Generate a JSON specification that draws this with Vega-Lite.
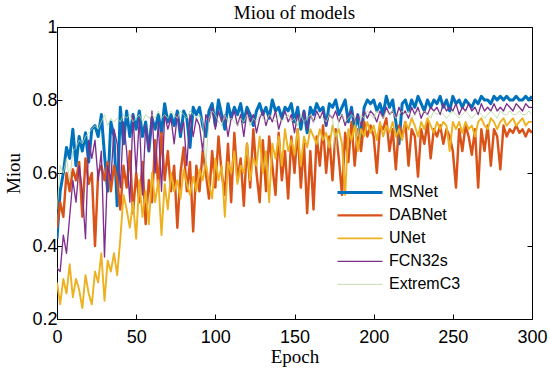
{
"$schema": "https://vega.github.io/schema/vega-lite/v6.json",
"width": 475, "height": 292,
"autosize": "none",
"padding": {"left": 57, "top": 27, "right": 18, "bottom": 54},
"background": "white",
"title": {"text": "Miou of models", "font": "Liberation Serif", "fontSize": 19, "fontWeight": "normal", "color": "black", "offset": -5},
"config": {
  "view": {"stroke": "black", "strokeWidth": 1},
  "axis": {"grid": false, "domain": false, "tickColor": "black", "tickSize": -5, "labelFlush": false, "labelFont": "Liberation Sans", "labelFontSize": 18, "labelColor": "black", "titleFont": "Liberation Serif", "titleFontSize": 19, "titleFontWeight": "normal", "titleColor": "black"},
  "legend": {"labelFont": "Liberation Sans", "labelFontSize": 16, "labelColor": "black"}
},
"data": {"values": [
{"epoch":0,"MSNet":0.42,"DABNet":0.45,"UNet":0.30,"FCN32s":0.34,"ExtremC3":0.50},
{"epoch":2,"MSNet":0.55,"DABNet":0.52,"UNet":0.24,"FCN32s":0.33,"ExtremC3":0.62},
{"epoch":4,"MSNet":0.60,"DABNet":0.48,"UNet":0.31,"FCN32s":0.43,"ExtremC3":0.60},
{"epoch":6,"MSNet":0.67,"DABNet":0.60,"UNet":0.27,"FCN32s":0.38,"ExtremC3":0.64},
{"epoch":8,"MSNet":0.64,"DABNet":0.55,"UNet":0.35,"FCN32s":0.48,"ExtremC3":0.58},
{"epoch":10,"MSNet":0.72,"DABNet":0.61,"UNet":0.26,"FCN32s":0.58,"ExtremC3":0.66},
{"epoch":12,"MSNet":0.62,"DABNet":0.58,"UNet":0.31,"FCN32s":0.52,"ExtremC3":0.67},
{"epoch":14,"MSNet":0.70,"DABNet":0.63,"UNet":0.28,"FCN32s":0.62,"ExtremC3":0.69},
{"epoch":16,"MSNet":0.66,"DABNet":0.48,"UNet":0.23,"FCN32s":0.55,"ExtremC3":0.68},
{"epoch":18,"MSNet":0.71,"DABNet":0.64,"UNet":0.32,"FCN32s":0.42,"ExtremC3":0.70},
{"epoch":20,"MSNet":0.63,"DABNet":0.57,"UNet":0.27,"FCN32s":0.69,"ExtremC3":0.71},
{"epoch":22,"MSNet":0.72,"DABNet":0.60,"UNet":0.24,"FCN32s":0.64,"ExtremC3":0.72},
{"epoch":24,"MSNet":0.73,"DABNet":0.40,"UNet":0.33,"FCN32s":0.69,"ExtremC3":0.73},
{"epoch":26,"MSNet":0.70,"DABNet":0.60,"UNet":0.30,"FCN32s":0.58,"ExtremC3":0.72},
{"epoch":28,"MSNet":0.76,"DABNet":0.62,"UNet":0.38,"FCN32s":0.66,"ExtremC3":0.74},
{"epoch":30,"MSNet":0.65,"DABNet":0.58,"UNet":0.25,"FCN32s":0.37,"ExtremC3":0.76},
{"epoch":32,"MSNet":0.55,"DABNet":0.63,"UNet":0.36,"FCN32s":0.62,"ExtremC3":0.73},
{"epoch":34,"MSNet":0.74,"DABNet":0.55,"UNet":0.33,"FCN32s":0.58,"ExtremC3":0.75},
{"epoch":36,"MSNet":0.70,"DABNet":0.62,"UNet":0.38,"FCN32s":0.72,"ExtremC3":0.74},
{"epoch":38,"MSNet":0.51,"DABNet":0.58,"UNet":0.32,"FCN32s":0.68,"ExtremC3":0.75},
{"epoch":40,"MSNet":0.78,"DABNet":0.50,"UNet":0.42,"FCN32s":0.56,"ExtremC3":0.74},
{"epoch":42,"MSNet":0.68,"DABNet":0.62,"UNet":0.54,"FCN32s":0.74,"ExtremC3":0.76},
{"epoch":44,"MSNet":0.77,"DABNet":0.56,"UNet":0.50,"FCN32s":0.66,"ExtremC3":0.75},
{"epoch":46,"MSNet":0.70,"DABNet":0.66,"UNet":0.45,"FCN32s":0.52,"ExtremC3":0.76},
{"epoch":48,"MSNet":0.76,"DABNet":0.49,"UNet":0.52,"FCN32s":0.76,"ExtremC3":0.74},
{"epoch":50,"MSNet":0.72,"DABNet":0.60,"UNet":0.42,"FCN32s":0.60,"ExtremC3":0.75},
{"epoch":52,"MSNet":0.77,"DABNet":0.52,"UNet":0.58,"FCN32s":0.75,"ExtremC3":0.76},
{"epoch":54,"MSNet":0.70,"DABNet":0.63,"UNet":0.48,"FCN32s":0.54,"ExtremC3":0.74},
{"epoch":56,"MSNet":0.74,"DABNet":0.46,"UNet":0.55,"FCN32s":0.73,"ExtremC3":0.76},
{"epoch":58,"MSNet":0.66,"DABNet":0.58,"UNet":0.46,"FCN32s":0.66,"ExtremC3":0.75},
{"epoch":60,"MSNet":0.75,"DABNet":0.52,"UNet":0.60,"FCN32s":0.77,"ExtremC3":0.76},
{"epoch":62,"MSNet":0.72,"DABNet":0.69,"UNet":0.52,"FCN32s":0.60,"ExtremC3":0.75},
{"epoch":64,"MSNet":0.76,"DABNet":0.56,"UNet":0.58,"FCN32s":0.74,"ExtremC3":0.77},
{"epoch":66,"MSNet":0.71,"DABNet":0.71,"UNet":0.43,"FCN32s":0.55,"ExtremC3":0.75},
{"epoch":68,"MSNet":0.79,"DABNet":0.58,"UNet":0.57,"FCN32s":0.76,"ExtremC3":0.76},
{"epoch":70,"MSNet":0.74,"DABNet":0.66,"UNet":0.50,"FCN32s":0.72,"ExtremC3":0.75},
{"epoch":72,"MSNet":0.76,"DABNet":0.55,"UNet":0.60,"FCN32s":0.75,"ExtremC3":0.77},
{"epoch":74,"MSNet":0.73,"DABNet":0.62,"UNet":0.55,"FCN32s":0.68,"ExtremC3":0.76},
{"epoch":76,"MSNet":0.77,"DABNet":0.45,"UNet":0.58,"FCN32s":0.76,"ExtremC3":0.75},
{"epoch":78,"MSNet":0.70,"DABNet":0.60,"UNet":0.53,"FCN32s":0.71,"ExtremC3":0.77},
{"epoch":80,"MSNet":0.77,"DABNet":0.67,"UNet":0.61,"FCN32s":0.74,"ExtremC3":0.76},
{"epoch":82,"MSNet":0.75,"DABNet":0.55,"UNet":0.57,"FCN32s":0.62,"ExtremC3":0.75},
{"epoch":84,"MSNet":0.67,"DABNet":0.63,"UNet":0.54,"FCN32s":0.76,"ExtremC3":0.77},
{"epoch":86,"MSNet":0.78,"DABNet":0.44,"UNet":0.59,"FCN32s":0.70,"ExtremC3":0.76},
{"epoch":88,"MSNet":0.76,"DABNet":0.62,"UNet":0.55,"FCN32s":0.75,"ExtremC3":0.75},
{"epoch":90,"MSNet":0.78,"DABNet":0.55,"UNet":0.61,"FCN32s":0.73,"ExtremC3":0.76},
{"epoch":92,"MSNet":0.73,"DABNet":0.66,"UNet":0.58,"FCN32s":0.66,"ExtremC3":0.74},
{"epoch":94,"MSNet":0.70,"DABNet":0.60,"UNet":0.63,"FCN32s":0.76,"ExtremC3":0.62},
{"epoch":96,"MSNet":0.77,"DABNet":0.53,"UNet":0.57,"FCN32s":0.74,"ExtremC3":0.75},
{"epoch":98,"MSNet":0.79,"DABNet":0.66,"UNet":0.53,"FCN32s":0.78,"ExtremC3":0.77},
{"epoch":100,"MSNet":0.73,"DABNet":0.56,"UNet":0.64,"FCN32s":0.72,"ExtremC3":0.76},
{"epoch":102,"MSNet":0.80,"DABNet":0.70,"UNet":0.58,"FCN32s":0.77,"ExtremC3":0.74},
{"epoch":104,"MSNet":0.76,"DABNet":0.60,"UNet":0.62,"FCN32s":0.74,"ExtremC3":0.73},
{"epoch":106,"MSNet":0.72,"DABNet":0.54,"UNet":0.48,"FCN32s":0.76,"ExtremC3":0.76},
{"epoch":108,"MSNet":0.79,"DABNet":0.68,"UNet":0.63,"FCN32s":0.70,"ExtremC3":0.74},
{"epoch":110,"MSNet":0.75,"DABNet":0.52,"UNet":0.60,"FCN32s":0.75,"ExtremC3":0.75},
{"epoch":112,"MSNet":0.78,"DABNet":0.71,"UNet":0.66,"FCN32s":0.77,"ExtremC3":0.74},
{"epoch":114,"MSNet":0.76,"DABNet":0.58,"UNet":0.57,"FCN32s":0.73,"ExtremC3":0.73},
{"epoch":116,"MSNet":0.79,"DABNet":0.64,"UNet":0.62,"FCN32s":0.76,"ExtremC3":0.75},
{"epoch":118,"MSNet":0.74,"DABNet":0.51,"UNet":0.60,"FCN32s":0.70,"ExtremC3":0.74},
{"epoch":120,"MSNet":0.78,"DABNet":0.68,"UNet":0.68,"FCN32s":0.77,"ExtremC3":0.76},
{"epoch":122,"MSNet":0.76,"DABNet":0.56,"UNet":0.58,"FCN32s":0.74,"ExtremC3":0.73},
{"epoch":124,"MSNet":0.73,"DABNet":0.72,"UNet":0.64,"FCN32s":0.76,"ExtremC3":0.75},
{"epoch":126,"MSNet":0.77,"DABNet":0.60,"UNet":0.62,"FCN32s":0.71,"ExtremC3":0.74},
{"epoch":128,"MSNet":0.79,"DABNet":0.52,"UNet":0.70,"FCN32s":0.75,"ExtremC3":0.76},
{"epoch":130,"MSNet":0.76,"DABNet":0.69,"UNet":0.60,"FCN32s":0.77,"ExtremC3":0.75},
{"epoch":132,"MSNet":0.78,"DABNet":0.55,"UNet":0.66,"FCN32s":0.73,"ExtremC3":0.74},
{"epoch":134,"MSNet":0.75,"DABNet":0.70,"UNet":0.52,"FCN32s":0.76,"ExtremC3":0.76},
{"epoch":136,"MSNet":0.80,"DABNet":0.62,"UNet":0.68,"FCN32s":0.74,"ExtremC3":0.75},
{"epoch":138,"MSNet":0.77,"DABNet":0.54,"UNet":0.64,"FCN32s":0.77,"ExtremC3":0.74},
{"epoch":140,"MSNet":0.78,"DABNet":0.71,"UNet":0.70,"FCN32s":0.72,"ExtremC3":0.76},
{"epoch":142,"MSNet":0.75,"DABNet":0.58,"UNet":0.62,"FCN32s":0.75,"ExtremC3":0.74},
{"epoch":144,"MSNet":0.78,"DABNet":0.66,"UNet":0.72,"FCN32s":0.77,"ExtremC3":0.75},
{"epoch":146,"MSNet":0.77,"DABNet":0.53,"UNet":0.66,"FCN32s":0.74,"ExtremC3":0.76},
{"epoch":148,"MSNet":0.79,"DABNet":0.70,"UNet":0.69,"FCN32s":0.76,"ExtremC3":0.74},
{"epoch":150,"MSNet":0.74,"DABNet":0.60,"UNet":0.65,"FCN32s":0.71,"ExtremC3":0.75},
{"epoch":152,"MSNet":0.78,"DABNet":0.72,"UNet":0.72,"FCN32s":0.76,"ExtremC3":0.73},
{"epoch":154,"MSNet":0.72,"DABNet":0.56,"UNet":0.62,"FCN32s":0.74,"ExtremC3":0.76},
{"epoch":156,"MSNet":0.77,"DABNet":0.68,"UNet":0.70,"FCN32s":0.77,"ExtremC3":0.74},
{"epoch":158,"MSNet":0.71,"DABNet":0.49,"UNet":0.67,"FCN32s":0.72,"ExtremC3":0.75},
{"epoch":160,"MSNet":0.78,"DABNet":0.66,"UNet":0.72,"FCN32s":0.76,"ExtremC3":0.76},
{"epoch":162,"MSNet":0.76,"DABNet":0.50,"UNet":0.70,"FCN32s":0.74,"ExtremC3":0.74},
{"epoch":164,"MSNet":0.79,"DABNet":0.70,"UNet":0.68,"FCN32s":0.77,"ExtremC3":0.75},
{"epoch":166,"MSNet":0.77,"DABNet":0.62,"UNet":0.72,"FCN32s":0.75,"ExtremC3":0.76},
{"epoch":168,"MSNet":0.78,"DABNet":0.73,"UNet":0.69,"FCN32s":0.77,"ExtremC3":0.75},
{"epoch":170,"MSNet":0.73,"DABNet":0.60,"UNet":0.71,"FCN32s":0.73,"ExtremC3":0.74},
{"epoch":172,"MSNet":0.79,"DABNet":0.70,"UNet":0.67,"FCN32s":0.76,"ExtremC3":0.76},
{"epoch":174,"MSNet":0.78,"DABNet":0.58,"UNet":0.73,"FCN32s":0.75,"ExtremC3":0.75},
{"epoch":176,"MSNet":0.80,"DABNet":0.72,"UNet":0.70,"FCN32s":0.77,"ExtremC3":0.66},
{"epoch":178,"MSNet":0.76,"DABNet":0.64,"UNet":0.72,"FCN32s":0.74,"ExtremC3":0.75},
{"epoch":180,"MSNet":0.78,"DABNet":0.54,"UNet":0.68,"FCN32s":0.76,"ExtremC3":0.76},
{"epoch":182,"MSNet":0.80,"DABNet":0.71,"UNet":0.54,"FCN32s":0.73,"ExtremC3":0.74},
{"epoch":184,"MSNet":0.74,"DABNet":0.63,"UNet":0.72,"FCN32s":0.76,"ExtremC3":0.75},
{"epoch":186,"MSNet":0.78,"DABNet":0.74,"UNet":0.69,"FCN32s":0.77,"ExtremC3":0.76},
{"epoch":188,"MSNet":0.72,"DABNet":0.62,"UNet":0.73,"FCN32s":0.74,"ExtremC3":0.75},
{"epoch":190,"MSNet":0.76,"DABNet":0.72,"UNet":0.66,"FCN32s":0.76,"ExtremC3":0.70},
{"epoch":192,"MSNet":0.69,"DABNet":0.66,"UNet":0.72,"FCN32s":0.73,"ExtremC3":0.76},
{"epoch":194,"MSNet":0.78,"DABNet":0.74,"UNet":0.70,"FCN32s":0.77,"ExtremC3":0.75},
{"epoch":196,"MSNet":0.80,"DABNet":0.70,"UNet":0.74,"FCN32s":0.75,"ExtremC3":0.77},
{"epoch":198,"MSNet":0.79,"DABNet":0.73,"UNet":0.71,"FCN32s":0.77,"ExtremC3":0.76},
{"epoch":200,"MSNet":0.80,"DABNet":0.70,"UNet":0.73,"FCN32s":0.76,"ExtremC3":0.75},
{"epoch":202,"MSNet":0.77,"DABNet":0.60,"UNet":0.69,"FCN32s":0.74,"ExtremC3":0.77},
{"epoch":204,"MSNet":0.79,"DABNet":0.73,"UNet":0.74,"FCN32s":0.77,"ExtremC3":0.76},
{"epoch":206,"MSNet":0.76,"DABNet":0.72,"UNet":0.70,"FCN32s":0.75,"ExtremC3":0.75},
{"epoch":208,"MSNet":0.81,"DABNet":0.75,"UNet":0.73,"FCN32s":0.78,"ExtremC3":0.77},
{"epoch":210,"MSNet":0.78,"DABNet":0.66,"UNet":0.71,"FCN32s":0.76,"ExtremC3":0.76},
{"epoch":212,"MSNet":0.80,"DABNet":0.72,"UNet":0.74,"FCN32s":0.77,"ExtremC3":0.77},
{"epoch":214,"MSNet":0.74,"DABNet":0.61,"UNet":0.70,"FCN32s":0.75,"ExtremC3":0.75},
{"epoch":216,"MSNet":0.68,"DABNet":0.73,"UNet":0.72,"FCN32s":0.78,"ExtremC3":0.76},
{"epoch":218,"MSNet":0.79,"DABNet":0.70,"UNet":0.69,"FCN32s":0.76,"ExtremC3":0.77},
{"epoch":220,"MSNet":0.80,"DABNet":0.74,"UNet":0.74,"FCN32s":0.77,"ExtremC3":0.76},
{"epoch":222,"MSNet":0.77,"DABNet":0.62,"UNet":0.72,"FCN32s":0.75,"ExtremC3":0.77},
{"epoch":224,"MSNet":0.80,"DABNet":0.72,"UNet":0.75,"FCN32s":0.78,"ExtremC3":0.75},
{"epoch":226,"MSNet":0.78,"DABNet":0.70,"UNet":0.73,"FCN32s":0.76,"ExtremC3":0.76},
{"epoch":228,"MSNet":0.81,"DABNet":0.59,"UNet":0.70,"FCN32s":0.78,"ExtremC3":0.77},
{"epoch":230,"MSNet":0.79,"DABNet":0.72,"UNet":0.74,"FCN32s":0.75,"ExtremC3":0.76},
{"epoch":232,"MSNet":0.77,"DABNet":0.68,"UNet":0.72,"FCN32s":0.77,"ExtremC3":0.77},
{"epoch":234,"MSNet":0.80,"DABNet":0.74,"UNet":0.75,"FCN32s":0.76,"ExtremC3":0.76},
{"epoch":236,"MSNet":0.78,"DABNet":0.64,"UNet":0.73,"FCN32s":0.78,"ExtremC3":0.75},
{"epoch":238,"MSNet":0.80,"DABNet":0.72,"UNet":0.71,"FCN32s":0.77,"ExtremC3":0.77},
{"epoch":240,"MSNet":0.79,"DABNet":0.70,"UNet":0.74,"FCN32s":0.78,"ExtremC3":0.76},
{"epoch":242,"MSNet":0.81,"DABNet":0.73,"UNet":0.72,"FCN32s":0.76,"ExtremC3":0.77},
{"epoch":244,"MSNet":0.78,"DABNet":0.68,"UNet":0.74,"FCN32s":0.79,"ExtremC3":0.76},
{"epoch":246,"MSNet":0.80,"DABNet":0.72,"UNet":0.73,"FCN32s":0.77,"ExtremC3":0.75},
{"epoch":248,"MSNet":0.77,"DABNet":0.70,"UNet":0.66,"FCN32s":0.78,"ExtremC3":0.76},
{"epoch":250,"MSNet":0.81,"DABNet":0.66,"UNet":0.74,"FCN32s":0.77,"ExtremC3":0.77},
{"epoch":252,"MSNet":0.79,"DABNet":0.56,"UNet":0.72,"FCN32s":0.79,"ExtremC3":0.76},
{"epoch":254,"MSNet":0.80,"DABNet":0.72,"UNet":0.74,"FCN32s":0.76,"ExtremC3":0.75},
{"epoch":256,"MSNet":0.78,"DABNet":0.66,"UNet":0.71,"FCN32s":0.78,"ExtremC3":0.76},
{"epoch":258,"MSNet":0.80,"DABNet":0.73,"UNet":0.74,"FCN32s":0.77,"ExtremC3":0.77},
{"epoch":260,"MSNet":0.79,"DABNet":0.70,"UNet":0.72,"FCN32s":0.79,"ExtremC3":0.76},
{"epoch":262,"MSNet":0.78,"DABNet":0.65,"UNet":0.73,"FCN32s":0.77,"ExtremC3":0.75},
{"epoch":264,"MSNet":0.80,"DABNet":0.72,"UNet":0.70,"FCN32s":0.78,"ExtremC3":0.76},
{"epoch":266,"MSNet":0.79,"DABNet":0.56,"UNet":0.74,"FCN32s":0.76,"ExtremC3":0.77},
{"epoch":268,"MSNet":0.81,"DABNet":0.72,"UNet":0.75,"FCN32s":0.79,"ExtremC3":0.76},
{"epoch":270,"MSNet":0.80,"DABNet":0.66,"UNet":0.73,"FCN32s":0.77,"ExtremC3":0.75},
{"epoch":272,"MSNet":0.80,"DABNet":0.73,"UNet":0.72,"FCN32s":0.78,"ExtremC3":0.76},
{"epoch":274,"MSNet":0.79,"DABNet":0.62,"UNet":0.75,"FCN32s":0.77,"ExtremC3":0.77},
{"epoch":276,"MSNet":0.81,"DABNet":0.72,"UNet":0.74,"FCN32s":0.79,"ExtremC3":0.76},
{"epoch":278,"MSNet":0.80,"DABNet":0.70,"UNet":0.72,"FCN32s":0.77,"ExtremC3":0.75},
{"epoch":280,"MSNet":0.81,"DABNet":0.61,"UNet":0.74,"FCN32s":0.78,"ExtremC3":0.77},
{"epoch":282,"MSNet":0.80,"DABNet":0.73,"UNet":0.75,"FCN32s":0.77,"ExtremC3":0.76},
{"epoch":284,"MSNet":0.81,"DABNet":0.70,"UNet":0.73,"FCN32s":0.79,"ExtremC3":0.76},
{"epoch":286,"MSNet":0.80,"DABNet":0.72,"UNet":0.74,"FCN32s":0.78,"ExtremC3":0.77},
{"epoch":288,"MSNet":0.80,"DABNet":0.71,"UNet":0.75,"FCN32s":0.77,"ExtremC3":0.76},
{"epoch":290,"MSNet":0.81,"DABNet":0.73,"UNet":0.73,"FCN32s":0.79,"ExtremC3":0.76},
{"epoch":292,"MSNet":0.80,"DABNet":0.71,"UNet":0.74,"FCN32s":0.78,"ExtremC3":0.77},
{"epoch":294,"MSNet":0.80,"DABNet":0.72,"UNet":0.75,"FCN32s":0.77,"ExtremC3":0.76},
{"epoch":296,"MSNet":0.81,"DABNet":0.70,"UNet":0.73,"FCN32s":0.79,"ExtremC3":0.76},
{"epoch":298,"MSNet":0.80,"DABNet":0.72,"UNet":0.74,"FCN32s":0.78,"ExtremC3":0.77},
{"epoch":300,"MSNet":0.81,"DABNet":0.71,"UNet":0.74,"FCN32s":0.78,"ExtremC3":0.76}
]},
"transform": [{"fold": ["MSNet", "DABNet", "UNet", "FCN32s", "ExtremC3"], "as": ["model", "miou"]}],
"layer": [
  {
    "mark": {"type": "line", "clip": true, "strokeJoin": "round"},
    "encoding": {
      "x": {"field": "epoch", "type": "quantitative", "scale": {"domain": [0, 300], "nice": false}, "axis": {"title": "Epoch", "values": [0, 50, 100, 150, 200, 250, 300], "labelPadding": 14, "titlePadding": 1}},
      "y": {"field": "miou", "type": "quantitative", "scale": {"domain": [0.2, 1], "nice": false}, "axis": {"title": "Miou", "values": [0.2, 0.4, 0.6, 0.8, 1], "format": "~g", "labelPadding": 5, "titlePadding": 8}},
      "color": {"field": "model", "type": "nominal", "scale": {"domain": ["MSNet", "DABNet", "UNet", "FCN32s", "ExtremC3"], "range": ["#0072BD", "#D95319", "#EDB120", "#7E2F8E", "#B5D69A"]}, "legend": {"title": null, "orient": "none", "legendX": 279, "legendY": 154, "symbolType": "stroke", "symbolSize": 2025, "clipHeight": 22.75, "rowPadding": 0, "labelOffset": 5, "padding": 0}},
      "strokeWidth": {"field": "model", "type": "nominal", "scale": {"domain": ["MSNet", "DABNet", "UNet", "FCN32s", "ExtremC3"], "range": [3, 0.8, 0.8, 0.8, 0.7]}, "legend": {"title": null, "orient": "none", "legendX": 279, "legendY": 154, "symbolType": "stroke", "symbolSize": 2025, "clipHeight": 22.75, "rowPadding": 0, "labelOffset": 5, "padding": 0}}
    }
  },
  {
    "mark": {"type": "point", "opacity": 0},
    "encoding": {
      "x": {"field": "epoch", "type": "quantitative", "axis": {"orient": "top", "title": null, "labels": false, "values": [0, 50, 100, 150, 200, 250, 300]}},
      "y": {"field": "miou", "type": "quantitative", "axis": {"orient": "right", "title": null, "labels": false, "values": [0.2, 0.4, 0.6, 0.8, 1]}}
    }
  }
],
"resolve": {"axis": {"x": "independent", "y": "independent"}}
}
